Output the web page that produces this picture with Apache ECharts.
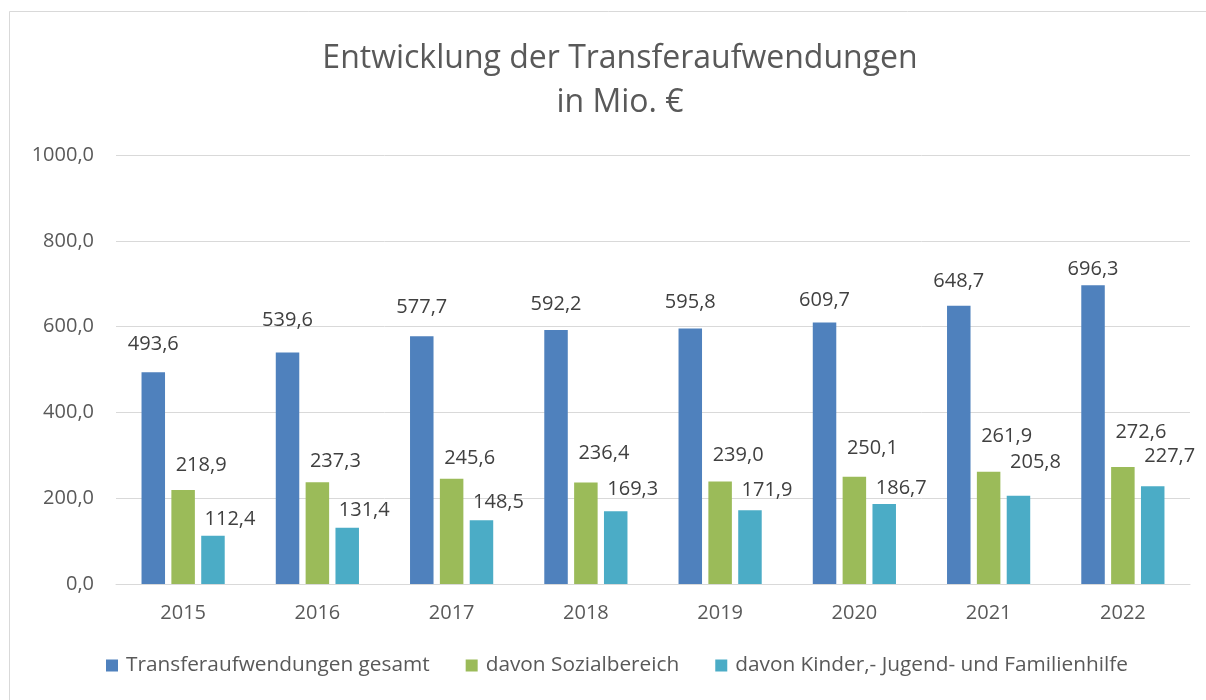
<!DOCTYPE html>
<html>
<head>
<meta charset="utf-8">
<script src="https://cdn.jsdelivr.net/npm/echarts@6/dist/echarts.min.js"></script>
<style>
  html, body { margin: 0; padding: 0; background: #fff; }
  #chart { width: 1206px; height: 700px; }
</style>
</head>
<body>
<div id="chart"></div>
<script>
var years = ['2015', '2016', '2017', '2018', '2019', '2020', '2021', '2022'];
var gesamt = [493.6, 539.6, 577.7, 592.2, 595.8, 609.7, 648.7, 696.3];
var sozial = [218.9, 237.3, 245.6, 236.4, 239.0, 250.1, 261.9, 272.6];
var kinder = [112.4, 131.4, 148.5, 169.3, 171.9, 186.7, 205.8, 227.7];
var yTicks = [0, 200, 400, 600, 800, 1000];

var seriesNames = ['Transferaufwendungen gesamt', 'davon Sozialbereich', 'davon Kinder,- Jugend- und Familienhilfe'];
var colors = ['#4F81BD', '#9BBB59', '#4BACC6'];

// label nudges as placed by hand in the original (pixels above the bar top, shift right)
var labelLift = [
    [28, 32, 29, 26, 26, 22, 24, 16],
    [25, 21, 20, 29, 26, 28, 35, 35],
    [16, 17, 18, 22, 20, 16, 33, 30]
];
var labelShift = [0, 18, 17];

function fmt(v) {
    return v.toFixed(1).replace('.', ',');
}

function buildData(values, s) {
    return values.map(function (v, i) {
        return {
            value: v,
            label: {
                position: ['50%', -labelLift[s][i]],
                offset: [labelShift[s], 0]
            }
        };
    });
}

function makeSeries(values, s) {
    return {
        name: seriesNames[s],
        type: 'bar',
        barWidth: 23.5,
        barGap: '27%',
        itemStyle: { color: colors[s] },
        label: {
            show: true,
            align: 'center',
            verticalAlign: 'middle',
            color: '#404040',
            fontFamily: 'Open Sans',
            fontSize: 20,
            formatter: function (p) { return fmt(p.value); }
        },
        data: buildData(values, s)
    };
}

var myChart = echarts.init(document.getElementById('chart'));

var option = {
    backgroundColor: '#fff',
    animation: false,
    color: colors,
    title: {
        text: 'Entwicklung der Transferaufwendungen\nin Mio. €',
        left: 615,
        top: 32,
        textAlign: 'center',
        textStyle: {
            color: '#595959',
            fontFamily: 'Open Sans',
            fontWeight: 'normal',
            fontSize: 32,
            lineHeight: 44
        }
    },
    legend: {
        bottom: 19,
        left: 101,
        itemWidth: 12,
        itemHeight: 12,
        itemGap: 36,
        icon: 'rect',
        textStyle: {
            color: '#595959',
            fontFamily: 'Open Sans',
            fontSize: 20.8,
            padding: [0, 0, 0, 3]
        },
        data: seriesNames
    },
    grid: {
        left: 116,
        right: 16,
        top: 155,
        bottom: 116
    },
    xAxis: {
        type: 'category',
        data: years,
        axisLine: { lineStyle: { color: '#d9d9d9', width: 1 } },
        axisTick: { show: false },
        axisLabel: {
            color: '#595959',
            fontFamily: 'Open Sans',
            fontSize: 20,
            margin: 19
        }
    },
    yAxis: {
        type: 'value',
        min: yTicks[0],
        max: yTicks[yTicks.length - 1],
        interval: 200,
        axisLine: { show: false },
        axisTick: { show: false },
        splitLine: { lineStyle: { color: '#d9d9d9', width: 1 } },
        axisLabel: {
            color: '#595959',
            fontFamily: 'Open Sans',
            fontSize: 20,
            margin: 22,
            formatter: function (v) { return fmt(v); }
        }
    },
    graphic: [{
        type: 'rect',
        silent: true,
        shape: { x: 9.5, y: 11.5, width: 1300, height: 800 },
        style: { fill: 'none', stroke: '#d9d9d9', lineWidth: 1 }
    }],
    series: [
        makeSeries(gesamt, 0),
        makeSeries(sozial, 1),
        makeSeries(kinder, 2)
    ]
};

myChart.setOption(option);
</script>
</body>
</html>
